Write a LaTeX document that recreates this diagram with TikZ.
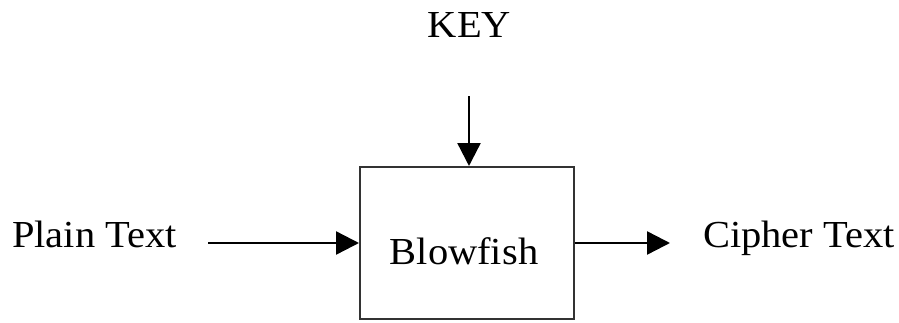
\documentclass[tikz,border=0pt]{standalone}
\usepackage{fontspec}
\setmainfont[FakeStretch=1.06]{Liberation Serif}
\usetikzlibrary{arrows.meta}
\begin{document}
\begin{tikzpicture}[x=1pt,y=1pt,
  lbl/.style={inner sep=0pt,font=\fontsize{38.2}{40}\selectfont},
  blk/.style={draw=black!80,line width=2pt,minimum width=214pt,minimum height=152pt,inner sep=0pt},
  arr/.style={line width=2.4pt,-{Triangle[length=23pt,width=23pt]}}]
\useasboundingbox (0,0) rectangle (899,322);
\node[blk] (box) at (467,79) {};
\node[lbl,anchor=base] (bf) at (464,58) {Blowfish};
\node[lbl,anchor=base west] (pt) at (12,75) {Plain Text};
\node[lbl,anchor=base west] (ct) at (703,75) {Cipher Text};
\node[lbl,anchor=base] (key) at (469.5,284) {KEY};
\coordinate (ks) at (469,226);
\coordinate (ps) at (208,79);
\coordinate (ce) at (670,79);
\draw[arr] (ks) -- (ks |- box.north);
\draw[arr] (ps) -- (box.west);
\draw[arr] (box.east) -- (ce);
\end{tikzpicture}
\end{document}
